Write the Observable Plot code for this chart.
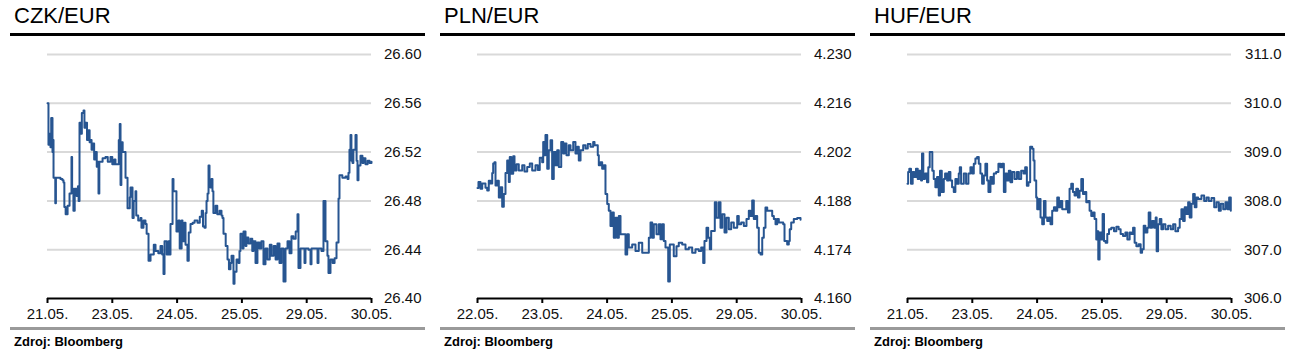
<!DOCTYPE html>
<html>
<head>
<meta charset="utf-8">
<script src="https://cdn.jsdelivr.net/npm/d3@7"></script>
<script src="https://cdn.jsdelivr.net/npm/@observablehq/plot@0.6"></script>
<style>
  html, body { margin: 0; padding: 0; background: #fff; }
  body { width: 1296px; height: 364px; position: relative; overflow: hidden;
         font-family: "Liberation Sans", Arial, sans-serif; color: #111; }
  .panel { position: absolute; top: 0; width: 415px; height: 364px; }
  .title { position: absolute; left: 4px; top: 5px; font-size: 22px; line-height: 22px; white-space: nowrap; color: #000; }
  .rule-top { position: absolute; left: 0; top: 33px; width: 415px; height: 3px; background: #000; }
  .chart { position: absolute; left: 0; top: 38px; }
  .rule-bottom { position: absolute; left: 0; top: 327px; width: 415px; height: 3px; background: #9a9a9a; }
  .source { position: absolute; left: 4px; top: 335px; font-size: 13px; line-height: 13px; font-weight: bold; color: #000; }
</style>
</head>
<body>
<script>
// ---- Data ----
const titles = ["CZK/EUR", "PLN/EUR", "HUF/EUR"];
const sourceText = "Zdroj: Bloomberg";

const czkXLabels = ["21.05.", "23.05.", "24.05.", "25.05.", "29.05.", "30.05."];
const plnXLabels = ["22.05.", "23.05.", "24.05.", "25.05.", "29.05.", "30.05."];
const hufXLabels = ["21.05.", "23.05.", "24.05.", "25.05.", "29.05.", "30.05."];

const czkTicks = [26.40, 26.44, 26.48, 26.52, 26.56, 26.60];
const plnTicks = [4.160, 4.174, 4.188, 4.202, 4.216, 4.230];
const hufTicks = [306.0, 307.0, 308.0, 309.0, 310.0, 311.0];

// [time in trading-day units from first label, rate]
const czk = [[0,26.560],[0.015,26.526],[0.03,26.535],[0.046,26.524],[0.057,26.548],[0.077,26.520],[0.085,26.530],[0.093,26.499],[0.12,26.478],[0.13,26.499],[0.2,26.498],[0.23,26.497],[0.247,26.495],[0.26,26.475],[0.28,26.469],[0.31,26.476],[0.34,26.486],[0.36,26.486],[0.37,26.516],[0.38,26.490],[0.40,26.472],[0.42,26.490],[0.45,26.484],[0.47,26.492],[0.48,26.480],[0.494,26.544],[0.51,26.535],[0.53,26.552],[0.556,26.554],[0.57,26.540],[0.586,26.544],[0.61,26.530],[0.633,26.538],[0.65,26.528],[0.664,26.530],[0.68,26.522],[0.694,26.527],[0.72,26.514],[0.741,26.520],[0.76,26.508],[0.772,26.512],[0.787,26.486],[0.80,26.512],[0.85,26.515],[0.895,26.516],[0.93,26.512],[0.972,26.516],[1.0,26.510],[1.03,26.514],[1.049,26.510],[1.08,26.510],[1.10,26.530],[1.115,26.543],[1.127,26.493],[1.14,26.528],[1.16,26.520],[1.19,26.520],[1.204,26.499],[1.235,26.474],[1.27,26.483],[1.281,26.491],[1.312,26.466],[1.33,26.480],[1.358,26.488],[1.37,26.468],[1.40,26.464],[1.435,26.466],[1.45,26.458],[1.481,26.464],[1.512,26.461],[1.53,26.453],[1.559,26.431],[1.59,26.436],[1.64,26.444],[1.667,26.439],[1.71,26.437],[1.744,26.443],[1.77,26.436],[1.79,26.420],[1.806,26.447],[1.84,26.436],[1.867,26.447],[1.88,26.436],[1.898,26.461],[1.93,26.498],[1.944,26.488],[1.975,26.488],[1.99,26.455],[2.02,26.464],[2.04,26.441],[2.07,26.464],[2.083,26.447],[2.11,26.462],[2.13,26.444],[2.16,26.431],[2.18,26.454],[2.207,26.461],[2.24,26.462],[2.27,26.464],[2.315,26.462],[2.35,26.467],[2.38,26.472],[2.40,26.459],[2.423,26.458],[2.44,26.470],[2.454,26.480],[2.47,26.486],[2.485,26.509],[2.50,26.497],[2.515,26.491],[2.53,26.498],[2.546,26.488],[2.56,26.470],[2.593,26.476],[2.62,26.469],[2.655,26.472],[2.685,26.468],[2.70,26.466],[2.716,26.453],[2.75,26.443],[2.778,26.432],[2.80,26.424],[2.824,26.429],[2.84,26.435],[2.870,26.412],[2.886,26.422],[2.917,26.432],[2.948,26.429],[2.963,26.439],[2.978,26.453],[3.01,26.441],[3.025,26.455],[3.056,26.443],[3.07,26.450],[3.10,26.445],[3.133,26.449],[3.16,26.439],[3.179,26.447],[3.21,26.429],[3.24,26.446],[3.27,26.441],[3.30,26.447],[3.333,26.428],[3.364,26.441],[3.395,26.432],[3.43,26.444],[3.457,26.435],[3.49,26.443],[3.52,26.432],[3.549,26.445],[3.58,26.429],[3.61,26.441],[3.642,26.414],[3.673,26.441],[3.704,26.447],[3.735,26.437],[3.765,26.451],[3.796,26.449],[3.83,26.455],[3.858,26.469],[3.873,26.425],[3.904,26.441],[3.935,26.441],[3.966,26.429],[3.981,26.441],[4.028,26.440],[4.059,26.428],[4.074,26.441],[4.136,26.441],[4.167,26.429],[4.182,26.441],[4.228,26.439],[4.259,26.480],[4.29,26.447],[4.32,26.435],[4.336,26.421],[4.367,26.432],[4.40,26.429],[4.43,26.433],[4.460,26.446],[4.491,26.482],[4.506,26.501],[4.55,26.499],[4.599,26.500],[4.630,26.498],[4.645,26.503],[4.66,26.522],[4.676,26.534],[4.69,26.513],[4.707,26.511],[4.72,26.522],[4.753,26.534],[4.77,26.513],[4.784,26.497],[4.799,26.509],[4.830,26.517],[4.86,26.511],[4.877,26.515],[4.907,26.510],[4.94,26.513],[4.97,26.511],[5.0,26.512]];

const pln = [[0,4.1917],[0.015,4.1934],[0.046,4.1915],[0.073,4.1930],[0.123,4.1918],[0.150,4.1910],[0.174,4.1938],[0.201,4.1930],[0.227,4.1960],[0.242,4.1987],[0.262,4.1991],[0.278,4.1924],[0.304,4.1938],[0.329,4.1890],[0.355,4.1919],[0.381,4.1863],[0.406,4.1900],[0.432,4.1960],[0.458,4.1996],[0.483,4.1934],[0.498,4.2006],[0.520,4.1958],[0.551,4.2008],[0.571,4.1967],[0.602,4.1985],[0.637,4.1967],[0.690,4.1982],[0.725,4.1964],[0.767,4.1977],[0.807,4.1987],[0.844,4.1967],[0.895,4.1982],[0.931,4.1969],[0.961,4.2004],[0.998,4.1991],[1.014,4.2049],[1.034,4.2011],[1.049,4.2069],[1.076,4.1972],[1.100,4.2025],[1.127,4.2054],[1.152,4.1943],[1.177,4.2020],[1.204,4.1982],[1.230,4.2025],[1.255,4.1977],[1.292,4.2049],[1.323,4.2016],[1.343,4.2045],[1.373,4.2011],[1.409,4.2040],[1.435,4.2025],[1.477,4.2049],[1.512,4.2016],[1.539,4.2035],[1.563,4.1996],[1.590,4.2025],[1.631,4.2040],[1.667,4.2030],[1.702,4.2043],[1.744,4.2035],[1.785,4.2049],[1.806,4.2040],[1.832,4.2040],[1.856,4.2011],[1.872,4.1982],[1.898,4.1991],[1.924,4.1972],[1.949,4.1982],[1.975,4.1900],[2.002,4.1871],[2.026,4.1852],[2.052,4.1808],[2.079,4.1847],[2.103,4.1774],[2.130,4.1832],[2.156,4.1774],[2.181,4.1837],[2.207,4.1784],[2.232,4.1784],[2.284,4.1726],[2.310,4.1784],[2.335,4.1746],[2.387,4.1755],[2.438,4.1736],[2.489,4.1760],[2.542,4.1731],[2.619,4.1731],[2.644,4.1774],[2.670,4.1818],[2.696,4.1774],[2.721,4.1813],[2.762,4.1784],[2.798,4.1813],[2.824,4.1770],[2.850,4.1813],[2.875,4.1765],[2.901,4.1746],[2.943,4.1649],[2.968,4.1755],[3.005,4.1755],[3.029,4.1721],[3.071,4.1750],[3.106,4.1760],[3.159,4.1755],[3.210,4.1741],[3.261,4.1746],[3.313,4.1731],[3.364,4.1741],[3.415,4.1736],[3.452,4.1746],[3.483,4.1702],[3.503,4.1765],[3.534,4.1803],[3.560,4.1774],[3.585,4.1741],[3.606,4.1794],[3.637,4.1794],[3.662,4.1876],[3.688,4.1832],[3.724,4.1876],[3.750,4.1803],[3.776,4.1842],[3.812,4.1789],[3.843,4.1832],[3.878,4.1799],[3.915,4.1818],[3.955,4.1803],[4.008,4.1837],[4.032,4.1813],[4.069,4.1818],[4.110,4.1808],[4.151,4.1828],[4.187,4.1852],[4.213,4.1837],[4.239,4.1881],[4.264,4.1828],[4.290,4.1837],[4.316,4.1803],[4.341,4.1731],[4.367,4.1726],[4.394,4.1774],[4.418,4.1803],[4.444,4.1861],[4.471,4.1852],[4.511,4.1852],[4.548,4.1837],[4.573,4.1828],[4.599,4.1813],[4.625,4.1828],[4.650,4.1818],[4.687,4.1818],[4.718,4.1813],[4.738,4.1765],[4.779,4.1755],[4.804,4.1765],[4.819,4.1799],[4.841,4.1818],[4.881,4.1828],[4.934,4.1831],[4.985,4.1826]];

const huf = [[0,308.35],[0.01,308.59],[0.028,308.66],[0.054,308.35],[0.080,308.59],[0.105,308.49],[0.131,308.66],[0.158,308.45],[0.182,308.62],[0.209,308.42],[0.224,308.97],[0.244,308.45],[0.270,308.56],[0.301,308.38],[0.321,308.69],[0.343,309.00],[0.363,309.00],[0.383,308.62],[0.405,308.45],[0.430,308.28],[0.456,308.49],[0.482,308.11],[0.502,308.62],[0.529,308.18],[0.560,308.45],[0.580,308.56],[0.611,308.42],[0.637,308.59],[0.662,308.42],[0.688,308.28],[0.714,308.18],[0.739,308.45],[0.765,308.35],[0.791,308.56],[0.807,308.69],[0.827,308.35],[0.869,308.56],[0.904,308.35],[0.940,308.56],[0.971,308.69],[0.997,308.56],[1.023,308.76],[1.048,308.87],[1.074,308.90],[1.100,308.76],[1.125,308.56],[1.151,308.35],[1.178,308.52],[1.202,308.76],[1.229,308.42],[1.249,308.18],[1.280,308.49],[1.306,308.35],[1.332,308.56],[1.368,308.59],[1.403,308.76],[1.434,308.69],[1.461,308.76],[1.487,308.18],[1.512,308.56],[1.538,308.42],[1.564,308.62],[1.589,308.38],[1.615,308.59],[1.651,308.45],[1.688,308.59],[1.719,308.45],[1.754,308.62],[1.790,308.56],[1.816,308.69],[1.842,308.31],[1.867,308.38],[1.893,309.11],[1.924,309.07],[1.944,308.83],[1.960,308.42],[1.986,308.07],[2.002,307.83],[2.028,308.04],[2.053,307.66],[2.079,307.52],[2.105,308.00],[2.130,307.66],[2.156,307.59],[2.182,307.66],[2.207,307.52],[2.233,307.80],[2.260,307.87],[2.284,307.80],[2.311,308.07],[2.337,307.87],[2.362,308.00],[2.388,307.83],[2.414,307.83],[2.450,308.00],[2.476,307.76],[2.501,308.25],[2.527,308.35],[2.553,308.18],[2.578,308.11],[2.604,308.25],[2.631,308.07],[2.655,308.21],[2.682,308.45],[2.708,308.14],[2.733,308.18],[2.759,307.97],[2.785,308.00],[2.810,307.80],[2.836,307.69],[2.862,307.76],[2.887,307.63],[2.913,307.21],[2.929,307.38],[2.944,306.80],[2.964,307.35],[2.991,307.21],[3.011,307.73],[3.032,307.18],[3.057,307.14],[3.083,307.32],[3.110,307.42],[3.145,307.45],[3.187,307.38],[3.223,307.47],[3.258,307.42],[3.289,307.32],[3.326,307.28],[3.362,307.35],[3.393,307.21],[3.428,307.35],[3.454,307.32],[3.481,307.45],[3.505,307.14],[3.532,307.07],[3.567,307.11],[3.598,306.94],[3.620,307.01],[3.645,307.49],[3.671,307.35],[3.702,307.45],[3.722,307.76],[3.748,307.45],[3.774,307.59],[3.805,307.45],[3.830,307.66],[3.845,306.97],[3.867,307.52],[3.892,307.63],[3.918,307.42],[3.944,307.52],[3.980,307.42],[4.022,307.49],[4.062,307.42],[4.099,307.52],[4.134,307.38],[4.176,307.45],[4.201,307.63],[4.227,307.83],[4.253,307.59],[4.278,307.87],[4.304,307.73],[4.331,307.97],[4.355,307.66],[4.382,307.94],[4.408,308.14],[4.433,307.87],[4.459,308.07],[4.485,308.04],[4.536,308.11],[4.578,308.00],[4.614,308.07],[4.649,308.00],[4.691,308.06],[4.733,307.87],[4.768,307.97],[4.804,307.80],[4.835,307.94],[4.872,307.83],[4.907,307.97],[4.938,307.83],[4.964,308.07],[4.989,307.80]];

// ---- Drawing ----
const LINE_COLOR = "#275591";
const panels = [
  {title: titles[0], data: czk, ticks: czkTicks, dec: 2, xLabels: czkXLabels},
  {title: titles[1], data: pln, ticks: plnTicks, dec: 3, xLabels: plnXLabels},
  {title: titles[2], data: huf, ticks: hufTicks, dec: 1, xLabels: hufXLabels}
];

panels.forEach((p, i) => {
  const div = document.createElement("div");
  div.className = "panel";
  div.style.left = (10 + i * 430) + "px";
  document.body.appendChild(div);

  const t = document.createElement("div");
  t.className = "title"; t.textContent = p.title; div.appendChild(t);
  const r1 = document.createElement("div"); r1.className = "rule-top"; div.appendChild(r1);

  const xIdx = p.xLabels.map((_, k) => k);
  const chart = Plot.plot({
    width: 415, height: 285,
    marginLeft: 37, marginRight: 54, marginTop: 16, marginBottom: 25,
    style: {fontFamily: '"Liberation Sans", Arial, sans-serif', fontSize: "15px", color: "#111", background: "transparent", overflow: "visible"},
    x: {domain: [0, xIdx.length - 1]},
    y: {domain: [p.ticks[0], p.ticks[p.ticks.length - 1]]},
    marks: [
      Plot.ruleY(p.ticks.slice(1), {stroke: "#d9d9d9", strokeWidth: 2}),
      Plot.line(p.data, {x: d => d[0], y: d => d[1], stroke: LINE_COLOR, strokeWidth: 2, curve: "step-after"}),
      Plot.ruleY([p.ticks[0]], {stroke: "#000", strokeWidth: 2}),
      Plot.axisY({anchor: "right", ticks: p.ticks, tickSize: 0, tickPadding: 50, textAnchor: "end",
                  tickFormat: d => d.toFixed(p.dec), fontSize: 15}),
      Plot.axisX({ticks: xIdx, tickFormat: k => p.xLabels[k], tickSize: 5, tickPadding: 5,
                  strokeWidth: 2, stroke: "#000", fontSize: 15})
    ]
  });
  chart.classList.add("chart");
  chart.style.position = "absolute"; chart.style.left = "0px"; chart.style.top = "38px";
  div.appendChild(chart);

  const r2 = document.createElement("div"); r2.className = "rule-bottom"; div.appendChild(r2);
  const s = document.createElement("div"); s.className = "source"; s.textContent = sourceText; div.appendChild(s);
});
</script>
</body>
</html>
